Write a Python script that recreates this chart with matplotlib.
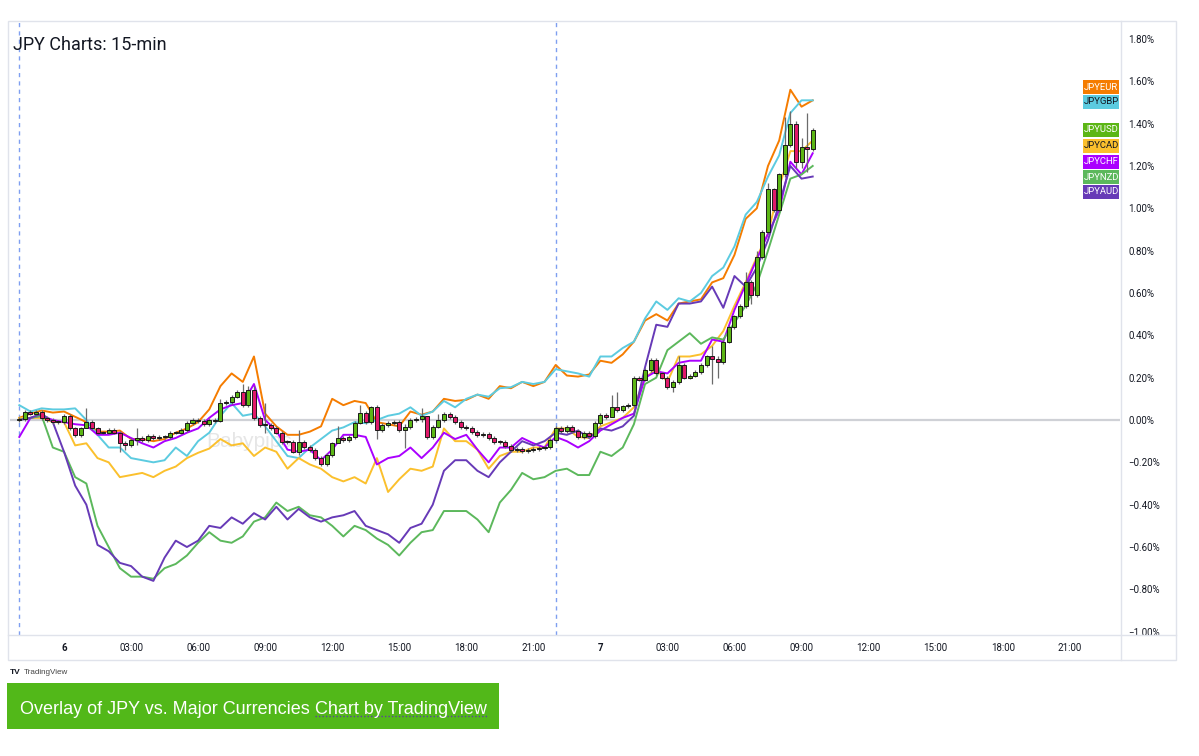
import numpy as np
import matplotlib
matplotlib.use("Agg")
import matplotlib.pyplot as plt
from matplotlib import font_manager
from matplotlib.patches import Rectangle
from matplotlib.lines import Line2D

W, H = 1199, 756

# t = hours from 00:00 on the 6th; lines read every 30 min from 22:00 on the 5th
line_start = -2.0
line_step = 0.5

jpyeur = [0.01, 0.03, 0.045, 0.035, 0.04, 0.015, -0.01, -0.055, -0.055, -0.05,
          -0.09, -0.09, -0.10, -0.09, -0.06, -0.04, -0.01, 0.05, 0.16, 0.22,
          0.18, 0.30, 0.03, -0.03, -0.07, -0.07, -0.055, -0.03, 0.10, 0.07,
          0.09, 0.08, -0.01, -0.02, -0.03, 0.04, 0.025, 0.04, 0.10, 0.09,
          0.095, 0.12, 0.10, 0.16, 0.15, 0.18, 0.16, 0.18, 0.26, 0.21,
          0.205, 0.215, 0.28, 0.27, 0.31, 0.37, 0.47, 0.50, 0.47, 0.55,
          0.56, 0.57, 0.65, 0.67, 0.78, 0.95, 1.00, 1.20, 1.32, 1.56,
          1.48, 1.51]
jpygbp = [0.07, 0.04, 0.055, 0.05, 0.05, 0.055, 0.0, -0.07, -0.13, -0.13,
          -0.18, -0.19, -0.20, -0.19, -0.13, -0.17, -0.10, -0.06, 0.02, 0.08,
          0.02, 0.03, -0.03, -0.10, -0.17, -0.18, -0.13, -0.09, -0.05, -0.035,
          -0.01, -0.015, 0.0, 0.02, 0.03, 0.06, 0.02, 0.04, 0.09, 0.06,
          0.10, 0.12, 0.11, 0.15, 0.155, 0.18, 0.17, 0.18, 0.24, 0.23,
          0.22, 0.205, 0.30, 0.30, 0.34, 0.37, 0.48, 0.56, 0.52, 0.575,
          0.56, 0.60, 0.68, 0.72, 0.82, 0.97, 1.03, 1.15, 1.25, 1.45,
          1.51, 1.51]
jpycad = [0.01, 0.01, 0.01, -0.01, -0.01, -0.12, -0.11, -0.18, -0.20, -0.27,
          -0.26, -0.25, -0.27, -0.24, -0.22, -0.18, -0.155, -0.135, -0.09, -0.12,
          -0.11, -0.17, -0.13, -0.15, -0.23, -0.18, -0.21, -0.23, -0.27, -0.29,
          -0.27, -0.30, -0.18, -0.34, -0.28, -0.23, -0.24, -0.22, -0.04, -0.10,
          -0.10, -0.14, -0.23, -0.17, -0.15, -0.15, -0.13, -0.13, -0.04, -0.04,
          -0.08, -0.085, -0.03, -0.01, 0.01, 0.06, 0.20, 0.24, 0.18, 0.30,
          0.30, 0.31, 0.35, 0.42, 0.54, 0.65, 0.77, 0.88, 1.10, 1.27,
          1.27, 1.32]
jpychf = [-0.08, 0.01, 0.02, 0.0, -0.01, -0.02, -0.025, -0.07, -0.07, -0.06,
          -0.085, -0.11, -0.13, -0.10, -0.085, -0.06, -0.04, 0.01, 0.05, 0.07,
          0.08, 0.17, 0.0, -0.05, -0.14, -0.15, -0.14, -0.19, -0.14, -0.07,
          -0.07, -0.08, -0.21, -0.18, -0.17, -0.13, -0.18, -0.13, -0.06, -0.09,
          -0.07, -0.14, -0.20, -0.13, -0.13, -0.085, -0.11, -0.13, -0.08, -0.10,
          -0.13, -0.10, -0.05, -0.02, 0.01, 0.03, 0.20, 0.23, 0.22, 0.27,
          0.28, 0.28, 0.38, 0.37, 0.52, 0.64, 0.76, 0.88, 0.99, 1.22,
          1.16, 1.26]
jpynzd = [0.0, 0.01, 0.02, -0.13, -0.15, -0.27, -0.30, -0.50, -0.60, -0.70,
          -0.74, -0.74, -0.75, -0.70, -0.68, -0.64, -0.58, -0.53, -0.57, -0.58,
          -0.55, -0.48, -0.46, -0.39, -0.43, -0.41, -0.45, -0.46, -0.50, -0.55,
          -0.50, -0.52, -0.56, -0.59, -0.64, -0.58, -0.53, -0.52, -0.43, -0.43,
          -0.43, -0.47, -0.53, -0.39, -0.33, -0.25, -0.28, -0.27, -0.24, -0.23,
          -0.26, -0.26, -0.15, -0.17, -0.13, -0.02, 0.17, 0.20, 0.33, 0.37,
          0.41, 0.36, 0.39, 0.38, 0.46, 0.54, 0.64, 0.80, 0.97, 1.14,
          1.16, 1.20]
jpyaud = [0.0, 0.01, 0.03, -0.01, -0.15, -0.31, -0.40, -0.59, -0.62, -0.675,
          -0.69, -0.74, -0.76, -0.65, -0.57, -0.60, -0.57, -0.50, -0.51, -0.46,
          -0.49, -0.44, -0.47, -0.41, -0.47, -0.42, -0.46, -0.48, -0.46, -0.45,
          -0.43, -0.50, -0.52, -0.54, -0.58, -0.51, -0.49, -0.40, -0.24, -0.19,
          -0.19, -0.24, -0.27, -0.20, -0.15, -0.10, -0.12, -0.10, -0.06, -0.07,
          -0.05, -0.085, -0.04, -0.05, -0.03, 0.02, 0.25, 0.45, 0.44, 0.55,
          0.55, 0.56, 0.63, 0.53, 0.68, 0.63, 0.72, 0.85, 1.02, 1.20,
          1.14, 1.15]

# JPYUSD candles, one per 15 min, close values; open = previous close
usd_step = 0.25
usd_first_open = 0.0
usd_close = [0.005, 0.038, 0.03, 0.04, 0.01, 0.0, -0.01, -0.01, 0.02, -0.04,
             -0.07, -0.04, -0.01, -0.04, -0.06, -0.06, -0.047, -0.06, -0.11, -0.12,
             -0.094, -0.085, -0.094, -0.075, -0.085, -0.08, -0.08, -0.06, -0.06, -0.047,
             -0.014, 0.0, -0.005, -0.02, 0.0, -0.005, 0.08, 0.085, 0.11, 0.132,
             0.07, 0.142, 0.01, -0.024, -0.024, -0.038, -0.06, -0.104, -0.104, -0.15,
             -0.104, -0.128, -0.142, -0.18, -0.21, -0.165, -0.11, -0.085, -0.094, -0.08,
             -0.014, 0.033, -0.01, 0.06, -0.047, -0.024, -0.015, -0.01, -0.047, -0.033,
             0.0, 0.005, 0.02, -0.08, -0.033, 0.0, 0.028, 0.014, -0.01, -0.033,
             -0.038, -0.057, -0.07, -0.066, -0.085, -0.104, -0.104, -0.123, -0.142, -0.137,
             -0.146, -0.142, -0.137, -0.132, -0.128, -0.094, -0.038, -0.052, -0.033, -0.052,
             -0.08, -0.06, -0.075, -0.015, 0.025, 0.015, 0.06, 0.047, 0.065, 0.07,
             0.20, 0.19, 0.236, 0.283, 0.22, 0.20, 0.156, 0.18, 0.26, 0.20,
             0.21, 0.227, 0.26, 0.30, 0.29, 0.274, 0.37, 0.44, 0.49, 0.54,
             0.65, 0.59, 0.77, 0.89, 1.09, 0.99, 1.16, 1.30, 1.40, 1.22,
             1.29, 1.28, 1.37]
# candles whose wicks reach well past the body: index -> (high, low)
usd_wicks = {12: (0.057, -0.04), 18: (-0.05, -0.15), 19: (-0.1, -0.14), 21: (-0.04, -0.12),
             36: (0.1, -0.01), 40: (0.17, 0.06), 41: (0.16, 0.06), 42: (0.16, 0.0),
             44: (0.08, -0.06), 50: (-0.047, -0.165), 57: (-0.03, -0.1), 61: (0.07, -0.02),
             64: (0.07, -0.09), 69: (-0.02, -0.13), 72: (0.057, -0.01), 73: (0.02, -0.09),
             75: (0.03, -0.04), 106: (0.12, 0.04), 107: (0.13, 0.04), 110: (0.21, 0.06),
             117: (0.19, 0.13), 118: (0.30, 0.17), 124: (0.35, 0.17), 125: (0.30, 0.20),
             130: (0.70, 0.53), 131: (0.66, 0.55), 132: (0.80, 0.58), 134: (1.12, 0.88),
             137: (1.43, 1.15), 138: (1.46, 1.29), 139: (1.41, 1.19), 140: (1.33, 1.19),
             141: (1.45, 1.17), 142: (1.38, 1.27)}

series = [("JPYEUR", jpyeur, "#f57c00"), ("JPYGBP", jpygbp, "#5ccbe0"),
          ("JPYCAD", jpycad, "#fbc02d"), ("JPYCHF", jpychf, "#aa00ff"),
          ("JPYNZD", jpynzd, "#5cb85c"), ("JPYAUD", jpyaud, "#673ab7")]

# price-scale labels (top to bottom) and their colours / text colours
scale_labels = [("JPYEUR", "#f57c00", "white"), ("JPYGBP", "#5ccbe0", "#131722"),
                ("JPYUSD", "#5cb615", "white"), ("JPYCAD", "#fbc02d", "#131722"),
                ("JPYCHF", "#aa00ff", "white"), ("JPYNZD", "#5cb85c", "white"),
                ("JPYAUD", "#673ab7", "white")]
scale_label_y = [87, 102, 130, 146, 162, 177, 192]

x_ticks = [0, 3, 6, 9, 12, 15, 18, 21, 24, 27, 30, 33, 36, 39, 42, 45]
x_labels = ["6", "03:00", "06:00", "09:00", "12:00", "15:00", "18:00", "21:00",
            "7", "03:00", "06:00", "09:00", "12:00", "15:00", "18:00", "21:00"]
y_ticks = [-1.0, -0.8, -0.6, -0.4, -0.2, 0.0, 0.2, 0.4, 0.6, 0.8, 1.0, 1.2, 1.4, 1.6, 1.8]
session_breaks = [-2, 22]

names = {f.name for f in font_manager.fontManager.ttflist}
ui = "Roboto" if "Roboto" in names else "DejaVu Sans"
arial = "Liberation Sans" if "Liberation Sans" in names else "DejaVu Sans"

fig = plt.figure(figsize=(W / 100, H / 100), dpi=100)
fig.patch.set_facecolor("white")


def fx(x):
    return x / W


def fy(y):
    return 1 - y / H


ax = fig.add_axes([fx(10), fy(635), fx(1110), (635 - 22) / H])
ax.set_facecolor("white")
for s in ax.spines.values():
    s.set_visible(False)
ax.set_xlim(-2.416, 47.25)
ax.set_ylim(-1.0156, 1.880)

ax.axhline(0, color="#cfd1d6", lw=1.6, zorder=1)
for t in session_breaks:
    ax.axvline(t, color="#7f9ff0", lw=1, ls=(0, (3, 3)), zorder=1)

for name, vals, col in series:
    t = line_start + line_step * np.arange(len(vals))
    ax.plot(t, vals, color=col, lw=1.4, zorder=3, solid_joinstyle="round")

closes = np.array(usd_close)
opens = np.concatenate([[usd_first_open], closes[:-1]])
tc = line_start + usd_step * np.arange(len(closes))
for k in range(len(closes)):
    o, c = opens[k], closes[k]
    hi, lo = usd_wicks.get(k, (max(o, c) + 0.008, min(o, c) - 0.008))
    ax.vlines(tc[k], lo, hi, color="#6b6b6b", lw=0.9, zorder=4)
    up = c >= o
    h = c - o
    if abs(h) < 0.004:
        h = 0.004 if up else -0.004
    ax.bar(tc[k], h, bottom=o, width=0.18, color="#5cb615" if up else "#e0196a",
           edgecolor="#1a1a1a", linewidth=0.7, zorder=5)

ax.text(8.3, -0.1, "Babypips", fontsize=15, color="#e6e6e6", ha="center", va="center",
        zorder=2, family=arial)

ax.set_xticks(x_ticks)
ax.set_xticklabels(x_labels)
ax.set_yticks(y_ticks)
ax.set_yticklabels([f"{v:.2f}%".replace("-", "\u2212") for v in y_ticks])
ax.yaxis.tick_right()
ax.tick_params(axis="x", length=0, pad=6, labelsize=7, labelcolor="#131722")
ax.tick_params(axis="y", length=0, pad=6, labelsize=7, labelcolor="#131722")
for lab in ax.get_xticklabels() + ax.get_yticklabels():
    lab.set_family(ui)
for lab in ax.get_yticklabels():
    lab.set_horizontalalignment("left")
for lab in ax.get_xticklabels():
    if lab.get_text() in ("6", "7"):
        lab.set_fontweight("bold")

# chart frame
frame = "#e0e3eb"
fig.add_artist(Rectangle((fx(8), fy(660)), fx(1176 - 8), (660 - 21) / H, fill=False,
                         ec=frame, lw=1, transform=fig.transFigure))
fig.add_artist(Line2D([fx(8), fx(1176)], [fy(635), fy(635)], color=frame, lw=1,
                      transform=fig.transFigure))
fig.add_artist(Line2D([fx(1121), fx(1121)], [fy(21), fy(660)], color=frame, lw=1,
                      transform=fig.transFigure))

for (lab, bg, fg), yy in zip(scale_labels, scale_label_y):
    fig.add_artist(Rectangle((fx(1083), fy(yy + 7)), fx(36), 14 / H, fc=bg, ec="none",
                             transform=fig.transFigure))
    fig.text(fx(1101), fy(yy), lab, ha="center", va="center", fontsize=6.8, color=fg,
             family=ui)

fig.text(fx(13), fy(45), "JPY Charts: 15-min", ha="left", va="center", fontsize=13,
         color="#131722", family=ui)

fig.text(fx(10), fy(673), "TV", ha="left", va="center", fontsize=6, fontweight="bold",
         color="#131722", family=arial)
fig.text(fx(24), fy(673), "TradingView", ha="left", va="center", fontsize=5.8,
         color="#444444", family=arial)

fig.add_artist(Rectangle((fx(7), fy(729)), fx(492), 46 / H, fc="#52b819", ec="none",
                         transform=fig.transFigure))
cap1 = fig.text(fx(20), fy(707), "Overlay of JPY vs. Major Currencies ", ha="left",
                va="center_baseline", fontsize=13, color="white", family=arial)
renderer = fig.canvas.get_renderer()
x_link = cap1.get_window_extent(renderer).x1
cap2 = fig.text(x_link / W, fy(707), "Chart by TradingView", ha="left",
                va="center_baseline", fontsize=13, color="white", family=arial)
x_end = cap2.get_window_extent(renderer).x1
fig.add_artist(Line2D([x_link / W, x_end / W], [fy(716), fy(716)], color="#5b3fa0", lw=1,
                      ls=(0, (1, 1.5)), transform=fig.transFigure))

fig.savefig("out.png", dpi=100, facecolor="white")
